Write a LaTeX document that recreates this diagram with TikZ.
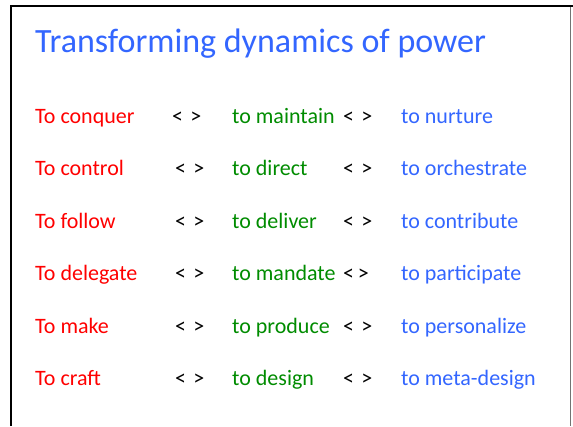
\documentclass[tikz,border=0pt]{standalone}
\usepackage{fontspec}
\setmainfont{Carlito}
\definecolor{tred}{RGB}{255,0,0}
\definecolor{tgreen}{RGB}{0,140,0}
\definecolor{tblue}{RGB}{51,102,255}
\begin{document}
\begin{tikzpicture}[x=1pt,y=-1pt,
  cell/.style={anchor=base west,inner sep=0pt,font=\fontsize{22}{24}\selectfont},
  colA/.style={cell,text=tred},
  colB/.style={cell,text=tgreen},
  colC/.style={cell,text=tblue},
  sep/.style={cell,text=black},
  titlestyle/.style={anchor=base west,inner sep=0pt,text=tblue,font=\fontsize{34}{38}\selectfont}]
\useasboundingbox (0,0) rectangle (573,426);
\fill[white] (0,0) rectangle (573,426);
% frame
\draw[black!55,line width=1pt] (570.5,6) -- (570.5,426);
\draw[black,line width=2.2pt] (11,426) -- (11,6) -- (573,6);
% title
\node[titlestyle] (title) at (35,52.5) {Transforming dynamics of power};
% rows
\node[colA] (a1) at (35,123) {To conquer};
\node[sep]  (s1) at (172,123) {<\,\,>};
\node[colB] (b1) at (232,123) {to maintain};
\node[sep]  (t1) at (343,123) {<\,\,>};
\node[colC] (c1) at (401,123) {to nurture};

\node[colA] (a2) at (35,175.5) {To control};
\node[sep]  (s2) at (175,175.5) {<\,\,>};
\node[colB] (b2) at (232,175.5) {to direct};
\node[sep]  (t2) at (343,175.5) {<\,\,>};
\node[colC] (c2) at (401,175.5) {to orchestrate};

\node[colA] (a3) at (35,228) {To follow};
\node[sep]  (s3) at (175,228) {<\,\,>};
\node[colB] (b3) at (232,228) {to deliver};
\node[sep]  (t3) at (343,228) {<\,\,>};
\node[colC] (c3) at (401,228) {to contribute};

\node[colA] (a4) at (35,280.5) {To delegate};
\node[sep]  (s4) at (175,280.5) {<\,\,>};
\node[colB] (b4) at (232,280.5) {to mandate};
\node[sep]  (t4) at (343,280.5) {<\,>};
\node[colC] (c4) at (401,280.5) {to participate};

\node[colA] (a5) at (35,333) {To make};
\node[sep]  (s5) at (175,333) {<\,\,>};
\node[colB] (b5) at (232,333) {to produce};
\node[sep]  (t5) at (343,333) {<\,\,>};
\node[colC] (c5) at (401,333) {to personalize};

\node[colA] (a6) at (35,385.5) {To craft};
\node[sep]  (s6) at (175,385.5) {<\,\,>};
\node[colB] (b6) at (232,385.5) {to design};
\node[sep]  (t6) at (343,385.5) {<\,\,>};
\node[colC] (c6) at (401,385.5) {to meta-design};
\end{tikzpicture}
\end{document}
